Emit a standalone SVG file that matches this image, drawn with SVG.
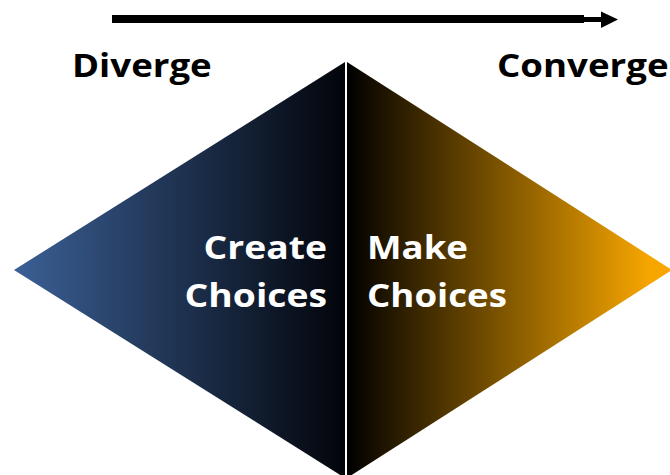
<svg xmlns="http://www.w3.org/2000/svg" width="670" height="475" viewBox="0 0 670 475">
  <defs>
    <linearGradient id="gradCreate" gradientUnits="userSpaceOnUse" x1="14" y1="0" x2="345" y2="0">
      <stop offset="0" stop-color="#3b6096"/>
      <stop offset="1" stop-color="#02040a"/>
    </linearGradient>
    <linearGradient id="gradMake" gradientUnits="userSpaceOnUse" x1="347" y1="0" x2="650" y2="0">
      <stop offset="0" stop-color="#000000"/>
      <stop offset="1" stop-color="#f7a600"/>
    </linearGradient>
  </defs>
  <style>
    .head { font-family: "Open Sans", "Noto Sans", "Liberation Sans", sans-serif; font-weight: 700; font-size: 33px; fill: #000; }
    .lbl { font-family: "Open Sans", "Noto Sans", "Liberation Sans", sans-serif; font-weight: 700; font-size: 33px; fill: #fff; }
  </style>
  <rect width="670" height="475" fill="#fff"/>

  <!-- direction arrow -->
  <g id="arrow">
    <rect x="112" y="15" width="472" height="8" fill="#000"/>
    <rect x="583" y="17" width="19" height="5" fill="#000"/>
    <polygon points="601,11.5 618,19.5 601,28" fill="#000"/>
  </g>

  <!-- headings are set slightly wide -->
  <g id="label-diverge">
    <text class="head" transform="translate(72,77) scale(1.11,1)">Diverge</text>
  </g>
  <g id="label-converge">
    <text class="head" transform="translate(497,77) scale(1.11,1)">Converge</text>
  </g>

  <!-- diverging half -->
  <g id="create-choices">
    <polygon points="14,270 345,62 345,478" fill="url(#gradCreate)"/>
    <text class="lbl" text-anchor="end" transform="translate(327,259) scale(1.13,1)">Create</text>
    <text class="lbl" text-anchor="end" transform="translate(327,307) scale(1.13,1)">Choices</text>
  </g>

  <!-- converging half -->
  <g id="make-choices">
    <polygon points="347,62 672,270 347,478" fill="url(#gradMake)"/>
    <text class="lbl" transform="translate(367,259) scale(1.11,1)">Make</text>
    <text class="lbl" transform="translate(367,307) scale(1.11,1)">Choices</text>
  </g>

  <g id="divider">
    <line x1="346" y1="62" x2="346" y2="475" stroke="#fff" stroke-width="2"/>
  </g>
</svg>
